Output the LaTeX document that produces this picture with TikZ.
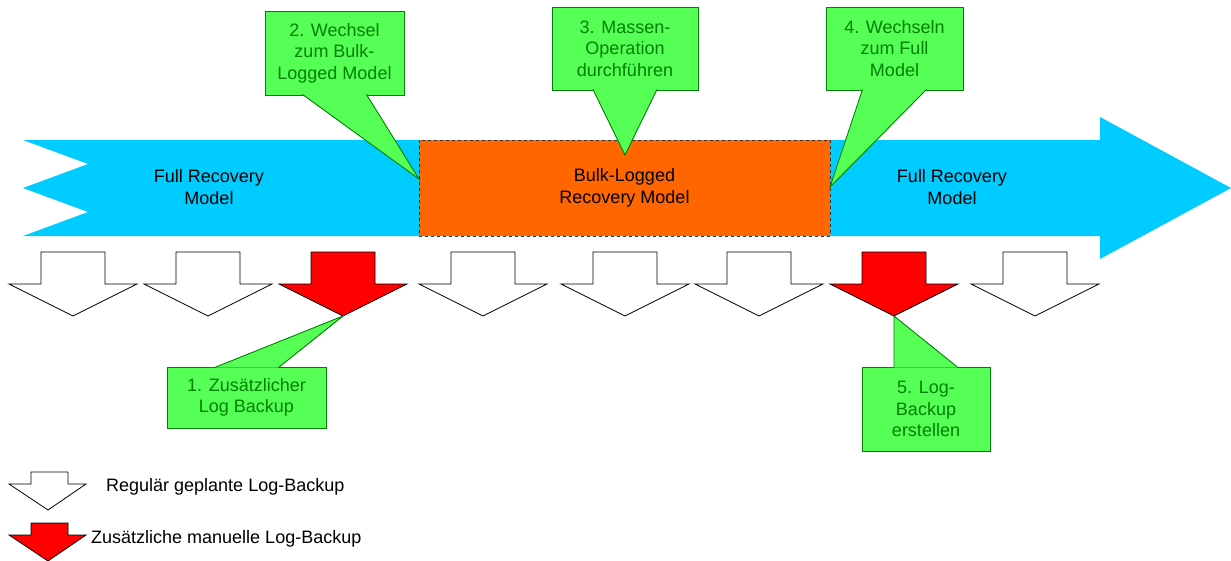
\documentclass[tikz,border=0pt]{standalone}
\usepackage{fontspec}
\setmainfont{Liberation Sans}
\usetikzlibrary{calc}
\definecolor{fullblue}{RGB}{0,204,255}
\definecolor{bulkorange}{RGB}{255,102,0}
\definecolor{notefill}{RGB}{85,255,85}
\definecolor{notegreen}{RGB}{0,128,0}
\begin{document}
\begin{tikzpicture}[x=1pt,y=-1pt]


\tikzset{testo/.style={font={\fontsize{18}{22}\selectfont},align=center,inner sep=0pt},}
\tikzset{bulk/.style={testo,rectangle,draw=black!80,dashed,line width=0.7pt,fill=bulkorange,minimum width=411pt,minimum height=96pt},}
\tikzset{nota/.style={rectangle,draw=notegreen,fill=notefill,text=notegreen,line width=0.9pt,inner sep=0pt,align=center,font={\fontsize{18}{21.5}\selectfont}},}
\tikzset{punta/.style={draw=notegreen,fill=notefill,line width=0.9pt,line join=miter},}
\tikzset{backup/.style={draw=black,line width=0.8pt,line join=miter},}

\useasboundingbox (0,0) rectangle (1231,560);

% timeline
\fill[fullblue] (23,140) -- (1100,140) -- (1100,117) -- (1231,188) -- (1100,259) -- (1100,236) -- (23,236) -- (88,212) -- (23,188) -- (88,164) -- cycle;
\draw
	(209,187) node[testo] (full1) {Full Recovery\\Model}
	(624.5,188) node[bulk] (bulk) {Bulk-Logged\\Recovery Model}
	(952,187) node[testo] (full2) {Full Recovery\\Model}
;

% log backups
\foreach \x/\c [count=\i] in {73/white,208/white,343/red,483/white,625/white,759/white,894/red,1035/white}
{
	\draw[backup,fill=\c,shift={(\x,0)}] (-32,252) -- (32,252) -- (32,284) -- (64,284) -- (0,316) -- (-64,284) -- (-32,284) -- cycle;
	\coordinate (b\i) at (\x,316);
}

\coordinate (s1) at (419,179);
\coordinate (s2) at (830,187);
\coordinate (op) at (625,155);

% callouts
\node[nota,minimum width=139pt,minimum height=84pt] (n2) at (334.5,53) {2. Wechsel\\zum Bulk-\\Logged Model};
\node[nota,minimum width=146pt,minimum height=83pt] (n3) at (625,48.5) {3. Massen-\\Operation\\durchführen};
\node[nota,minimum width=137pt,minimum height=83pt] (n4) at (894.5,48.5) {4. Wechseln\\zum Full\\Model};
\node[nota,minimum width=159pt,minimum height=61pt] (n1) at (246.5,397.5) {1. Zusätzlicher\\Log Backup};
\node[nota,minimum width=128pt,minimum height=84pt] (n5) at (926,409) {5. Log-\\Backup\\erstellen};

\foreach \n/\side/\tip/\d in {n2/south/s1/-1,n3/south/op/-1,n4/south/s2/-1,n1/north/b3/1,n5/north/b7/1}
	\filldraw[punta] ($(\n.\side)+(-32,\d)$) -- (\tip) -- ($(\n.\side)+(32,\d)$);

% legend
\draw[backup,fill=white] (31,472) -- (68,472) -- (68,484) -- (86,484) -- (48,510) -- (9,484) -- (31,484) -- cycle;
\draw[backup,fill=red] (31,523) -- (68,523) -- (68,535) -- (86,535) -- (48,561) -- (9,535) -- (31,535) -- cycle;
\node[testo,anchor=west] (leg1) at (106,487) {Regulär geplante Log-Backup};
\node[testo,anchor=west] (leg2) at (91,539) {Zusätzliche manuelle Log-Backup};


\end{tikzpicture}
\end{document}
